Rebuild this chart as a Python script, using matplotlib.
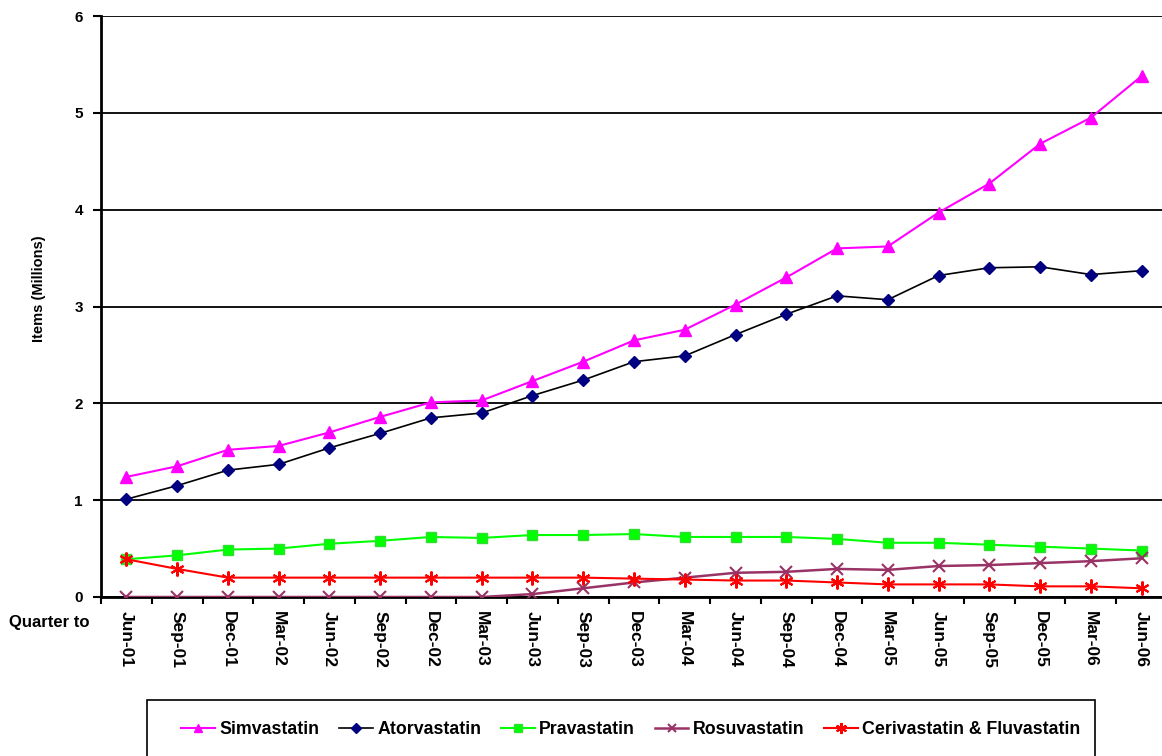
import matplotlib
matplotlib.use("Agg")
import matplotlib.pyplot as plt
from matplotlib.patches import Rectangle

plt.rcParams['font.family'] = ['Liberation Sans', 'DejaVu Sans']
plt.rcParams['font.weight'] = 'bold'

# quarters on the x axis
quarters = ["Jun-01", "Sep-01", "Dec-01", "Mar-02", "Jun-02", "Sep-02", "Dec-02",
            "Mar-03", "Jun-03", "Sep-03", "Dec-03", "Mar-04", "Jun-04", "Sep-04",
            "Dec-04", "Mar-05", "Jun-05", "Sep-05", "Dec-05", "Mar-06", "Jun-06"]

# items in millions
simvastatin = [1.24, 1.35, 1.52, 1.56, 1.70, 1.86, 2.01, 2.03, 2.23, 2.43, 2.65,
               2.76, 3.02, 3.30, 3.60, 3.62, 3.97, 4.27, 4.68, 4.95, 5.38]
atorvastatin = [1.01, 1.15, 1.31, 1.37, 1.54, 1.69, 1.85, 1.90, 2.08, 2.24, 2.43,
                2.49, 2.71, 2.92, 3.11, 3.07, 3.32, 3.40, 3.41, 3.33, 3.37]
pravastatin = [0.39, 0.43, 0.49, 0.50, 0.55, 0.58, 0.62, 0.61, 0.64, 0.64, 0.65,
               0.62, 0.62, 0.62, 0.60, 0.56, 0.56, 0.54, 0.52, 0.50, 0.48]
rosuvastatin = [0.0, 0.0, 0.0, 0.0, 0.0, 0.0, 0.0, 0.0, 0.03, 0.09, 0.15,
                0.20, 0.25, 0.26, 0.29, 0.28, 0.32, 0.33, 0.35, 0.37, 0.40]
ceri_fluva = [0.39, 0.29, 0.20, 0.20, 0.20, 0.20, 0.20, 0.20, 0.20, 0.20, 0.19,
              0.18, 0.17, 0.17, 0.15, 0.13, 0.13, 0.13, 0.11, 0.11, 0.09]

fig = plt.figure(figsize=(11.62, 7.56), dpi=100)
W, H = 1162, 756
# axes box in pixels: left 101, right 1167, top 16, bottom 597
ax = fig.add_axes([101 / W, (H - 597) / H, (1167 - 101) / W, (597 - 16) / H])

x = list(range(len(quarters)))

ax.plot(x, simvastatin, color="#FF00FF", marker="^", markersize=8, lw=1.5,
        label="Simvastatin", zorder=5)
ax.plot(x, atorvastatin, color="black", marker="D", markersize=6, lw=1.2,
        markerfacecolor="#000080", markeredgecolor="#000080",
        label="Atorvastatin", zorder=5)
ax.plot(x, pravastatin, color="#00FF00", marker="s", markersize=7, lw=1.5,
        markeredgecolor="#33DD33", label="Pravastatin", zorder=4)
ax.plot(x, rosuvastatin, color="#993366", marker="x", markersize=8, lw=1.8,
        mew=1.5, label="Rosuvastatin", zorder=4)
ax.plot(x, ceri_fluva, color="#FF0000", marker=(6, 2, 0), markersize=10, lw=1.5,
        mew=1.5, label="Cerivastatin & Fluvastatin", zorder=4)

ax.set_xlim(-0.5, len(quarters) - 0.5)
ax.set_ylim(0, 6)
ax.set_yticks(range(0, 7))
ax.yaxis.grid(True, color="black", lw=1.3)
ax.set_axisbelow(True)

# category ticks sit between the labels, like the original
ax.set_xticks([i - 0.5 for i in range(len(quarters) + 1)], minor=False)
ax.set_xticklabels([])
ax.set_xticks(x, minor=True)
ax.set_xticklabels(quarters, minor=True, rotation=-90, fontsize=12.5,
                   fontweight="bold", va="top", ha="center")
ax.tick_params(axis="x", which="minor", length=0, pad=10)
ax.tick_params(axis="x", which="major", length=5, width=1.5, direction="out")
ax.tick_params(axis="y", length=6, width=1.5, direction="out", labelsize=11, pad=7)
for lab in ax.get_yticklabels():
    lab.set_fontweight("bold")

for s in ["top", "right"]:
    ax.spines[s].set_visible(False)
ax.spines["left"].set_linewidth(2)
ax.spines["bottom"].set_linewidth(2)

ax.set_ylabel("Items (Millions)", fontsize=10.5, fontweight="bold")
ax.yaxis.set_label_coords(-55 / 1066, (597 - 289) / 581)
fig.text(9 / W, 1 - 622 / H, "Quarter to", fontsize=12, fontweight="bold",
         va="center", ha="left")

# legend box runs off the bottom of the picture
fig.patches.append(Rectangle((147 / W, -10 / H), (1095 - 147) / W, (H - 700 + 10) / H,
                             transform=fig.transFigure, fill=False,
                             edgecolor="black", lw=1.2))
fig.legend(loc="center", bbox_to_anchor=(631 / W, 1 - 730 / H),
           ncol=5, frameon=False, handlelength=1.9,
           columnspacing=1.1, handletextpad=0.25, markerscale=0.8,
           borderaxespad=0, borderpad=0,
           prop={"weight": "bold", "size": 12.8})

fig.savefig("out.png", dpi=100)
